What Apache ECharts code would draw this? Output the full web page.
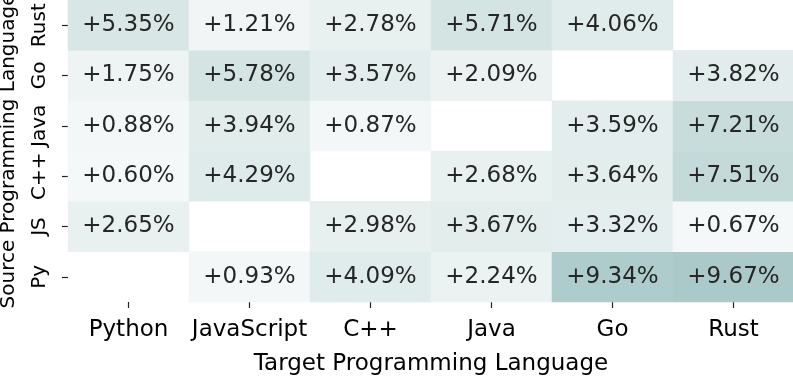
<!DOCTYPE html>
<html style="height: 382px;width: 793px;">
<head>
  <meta charset="UTF-8">
  <title>heatmap</title>
  <script src="https://cdn.jsdelivr.net/npm/echarts@6/dist/echarts.min.js"></script>
</head>
<body style="margin:0;height: 100%;width: 100%;background:#fff;">
<div id="chart" style="width: 793px;height: 382px;"></div>
<script>
// target languages (columns)
var target_langs = ["Python", "JavaScript", "C++", "Java", "Go", "Rust"];
// source languages (rows, bottom to top)
var source_langs = ["Py", "JS", "C++", "Java", "Go", "Rust"];

// improvement per source row, one value per target column (null = same language)
var row_py   = [null, 0.93, 4.09, 2.24, 9.34, 9.67];
var row_js   = [2.65, null, 2.98, 3.67, 3.32, 0.67];
var row_cpp  = [0.60, 4.29, null, 2.68, 3.64, 7.51];
var row_java = [0.88, 3.94, 0.87, null, 3.59, 7.21];
var row_go   = [1.75, 5.78, 3.57, 2.09, null, 3.82];
var row_rust = [5.35, 1.21, 2.78, 5.71, 4.06, null];

var rows = [row_py, row_js, row_cpp, row_java, row_go, row_rust];
var cells = [];
for (var r = 0; r < rows.length; ++r) {
    for (var c = 0; c < rows[r].length; ++c) {
        if (rows[r][c] !== null) cells.push([c, r, rows[r][c]]);
    }
}

var font = "DejaVu Sans";
var option = {
    animation: false,
    grid: { left: 68, top: 0, width: 726, height: 302, containLabel: false, outerBoundsMode: 'none' },
    xAxis: {
        type: 'category',
        data: target_langs,
        name: "Target Programming Language",
        nameLocation: 'middle',
        nameGap: 51,
        nameTextStyle: { color: "#000", fontSize: 23, fontFamily: font },
        axisLine: { show: false },
        axisTick: { show: true, alignWithLabel: true, interval: 0, length: 6, lineStyle: { color: "#222", width: 1.2 } },
        axisLabel: { color: "#000", fontSize: 23, fontFamily: font, margin: 17, interval: 0 },
        splitArea: { show: false }
    },
    yAxis: {
        type: 'category',
        data: source_langs,
        name: "Source Programming Language",
        nameLocation: 'middle',
        nameGap: 49,
        nameTextStyle: { color: "#000", fontSize: 20, fontFamily: font },
        axisLine: { show: false },
        axisTick: { show: true, alignWithLabel: true, interval: 0, length: 6, lineStyle: { color: "#222", width: 1.2 } },
        axisLabel: { color: "#000", fontSize: 20, fontFamily: font, rotate: 90, margin: 18, interval: 0 }
    },
    visualMap: {
        show: false,
        min: 0,
        max: 9.67,
        inRange: { color: ['#f8fafa', '#eaf1f1', '#dce9e8', '#c7dcdb', '#aac9c8'] }
    },
    series: [{
        type: 'heatmap',
        data: cells,
        label: {
            show: true,
            color: "#262626",
            fontSize: 23,
            fontFamily: font,
            formatter: function (p) { return "+" + p.value[2].toFixed(2) + "%"; }
        },
        itemStyle: { borderWidth: 0 }
    }]
};
var chart = echarts.init(document.getElementById("chart"));
chart.setOption(option);
</script>
</body>
</html>
